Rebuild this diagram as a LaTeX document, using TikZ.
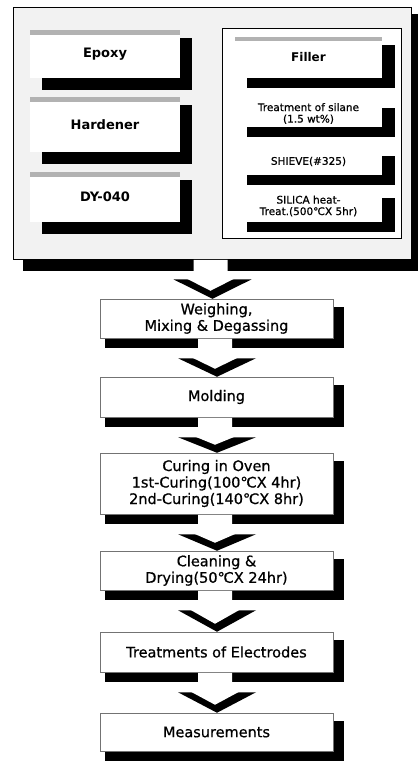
\documentclass[tikz,border=0pt]{standalone}
\usepackage{fontspec}
\setmainfont{DejaVu Sans}
\newfontfamily\medfont{DejaVu Sans}[FakeBold=0.7]
\usetikzlibrary{calc}
\pgfdeclarelayer{bg}\pgfdeclarelayer{sh}
\pgfsetlayers{bg,sh,main}
\tikzset{
  face/.style={fill=white, draw=black!55, line width=0.5pt, inner sep=0pt, align=center},
  flowbox/.style={face, minimum width=233pt, font=\medfont\fontsize{14.5}{16.5}\selectfont},
  strip/.style={path picture={\fill[black!30] (path picture bounding box.north west) rectangle ([yshift=-#1]path picture bounding box.north east);}},
  lbox/.style={fill=white, inner sep=0pt, minimum width=150pt, strip=5pt, font=\bfseries\fontsize{13}{15}\selectfont},
  rbox/.style={fill=white, inner sep=0pt, minimum width=147pt, align=center, font=\medfont\fontsize{10.5}{11.5}\selectfont},
  shadowfill/.style={fill=black}
}
\newcommand\flowarrow[2]{%
  \coordinate (st) at ($(#1.south)+(-1.5,0.5)$);
  \coordinate (hb) at ($(#1.south)+(-1.5,12)$);
  \coordinate (tp) at ($(hb |- #2.north)+(0,-8)$);
  \fill[black] ($(hb)+(-37,8)$) -- ($(hb)+(41,8)$) -- ($(tp)+(2,8)$) -- cycle;
  \fill[white] ($(st)+(-17,0)$) -- ($(st)+(17,0)$) -- ($(hb)+(17,0)$) -- ($(hb)+(38,0)$) -- (tp) -- ($(hb)+(-38,0)$) -- ($(hb)+(-17,0)$) -- cycle;
}
\begin{document}
\begin{tikzpicture}[x=1pt,y=-1pt]
\useasboundingbox (0,0) rectangle (418,761);
% outer material box
\begin{pgfonlayer}{bg}
\fill[shadowfill] (23,14) rectangle (418,271);
\node[draw=black, line width=0.8pt, fill=black!5, minimum width=398pt, minimum height=252pt, inner sep=0pt] (mat) at (212,133) {};
\node[draw=black, line width=1pt, fill=white, minimum width=179pt, minimum height=210pt, inner sep=0pt] (panel) at (311.5,133) {};
\end{pgfonlayer}
% left boxes
\node[lbox, minimum height=48pt] (epoxy) at (105,54) {Epoxy};
\node[lbox, minimum height=55pt] (hard) at (105,124.5) {Hardener};
\node[lbox, minimum height=50pt] (dy) at (105,197) {DY-040};
% right boxes
\node[rbox, strip=4pt, minimum height=41pt, font=\bfseries\fontsize{12}{14}\selectfont] (filler) at (308.5,57.5) {Filler};
\node[rbox, minimum height=27pt] (silane) at (308.5,113.5) {Treatment of silane\\(1.5 wt\%)};
\node[rbox, minimum height=27pt] (shieve) at (308.5,161.5) {SHIEVE(\#325)};
\node[rbox, minimum height=32pt] (silica) at (308.5,206) {SILICA heat-\\Treat.(500℃X 5hr)};
% flow boxes
\node[flowbox, minimum height=39pt] (weigh) at (216.5,318.5) {Weighing,\\Mixing \& Degassing};
\node[flowbox, minimum height=40pt] (mold) at (216.5,397) {Molding};
\node[flowbox, minimum height=61pt] (cure) at (216.5,483.5) {Curing in Oven\\1st-Curing(100℃X 4hr)\\2nd-Curing(140℃X 8hr)};
\node[flowbox, minimum height=39pt] (clean) at (216.5,570.5) {Cleaning \&\\Drying(50℃X 24hr)};
\node[flowbox, minimum height=40pt] (elec) at (216.5,652) {Treatments of Electrodes};
\node[flowbox, minimum height=38pt] (meas) at (216.5,732) {Measurements};
% shadows
\begin{pgfonlayer}{sh}
\foreach \n in {epoxy,hard,dy}
  \fill[shadowfill] ($(\n.north west)+(12,8)$) rectangle ($(\n.south east)+(12,12)$);
\foreach \n in {filler,silane,shieve,silica}
  \fill[shadowfill] ($(\n.north west)+(12,8)$) rectangle ($(\n.south east)+(13,10)$);
\foreach \n in {weigh,mold,cure,clean,elec,meas}
  \fill[shadowfill] ($(\n.north west)+(5,8)$) rectangle ($(\n.south east)+(11,10)$);
\end{pgfonlayer}
% arrows
\flowarrow{mat}{weigh}
\flowarrow{weigh}{mold}
\flowarrow{mold}{cure}
\flowarrow{cure}{clean}
\flowarrow{clean}{elec}
\flowarrow{elec}{meas}
\end{tikzpicture}
\end{document}
